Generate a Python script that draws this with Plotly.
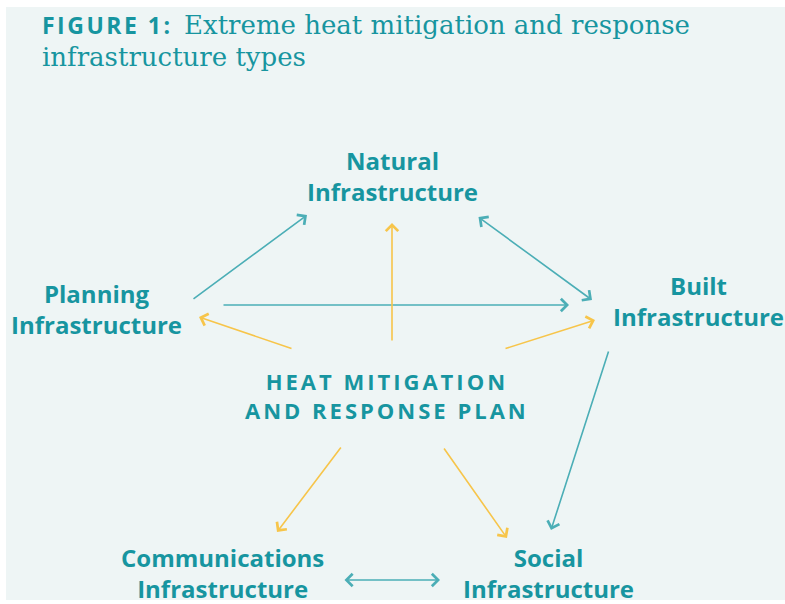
import plotly.graph_objects as go

# ---- data ----
nodes = ["Natural<br>Infrastructure", "Planning<br>Infrastructure", "Built<br>Infrastructure",
         "HEAT MITIGATION<br>AND RESPONSE PLAN", "Communications<br>Infrastructure", "Social<br>Infrastructure"]
# edges: source -> target; 'Plan' edges are yellow, others teal
edge_src = ["Planning", "Planning", "Natural", "Built", "Communications",
            "Plan", "Plan", "Plan", "Plan", "Plan"]
edge_dst = ["Natural", "Built", "Built", "Social", "Social",
            "Natural", "Planning", "Built", "Communications", "Social"]
edge_two_way = [False, False, True, False, True, False, False, False, False, False]
title_bold = "FIGURE 1:"
title_rest_1 = "Extreme heat mitigation and response"
title_rest_2 = "infrastructure types"

# ---- layout (positions in px of a 785x604 canvas) ----
node_pos = [(392, 176), (96, 309), (698, 301), (387, 395), (222, 573), (548, 573)]
edge_tail = [(192, 300), (222, 305), (477, 216), (609, 350), (343, 580),
             (392, 342), (293, 349), (504, 349), (342, 446), (443, 447)]
edge_head = [(307, 215), (569, 305), (592, 300), (551, 530), (440, 580),
             (392, 223), (199, 317), (595, 320), (277, 532), (507, 538)]

TEAL = "#1795A0"
LINE_TEAL = "#4BAEB6"
YELLOW = "#F7C54A"
BG = "#EEF5F5"

fig = go.Figure()
fig.add_trace(go.Scatter(x=[0, 785], y=[0, 604], mode="markers", marker=dict(opacity=0),
                         hoverinfo="skip", showlegend=False))

fig.add_shape(type="rect", x0=6, x1=785, y0=7, y1=600, fillcolor=BG, line_width=0, layer="below")

annotations = []
for i, (t, h) in enumerate(zip(edge_tail, edge_head)):
    col = YELLOW if edge_src[i] == "Plan" else LINE_TEAL
    a = dict(x=h[0], y=h[1], ax=t[0], ay=t[1], xref="x", yref="y", axref="x", ayref="y",
             text="", showarrow=True, arrowhead=4, arrowsize=1.5, arrowwidth=1.6, arrowcolor=col)
    if edge_two_way[i]:
        a.update(arrowside="end+start", startarrowhead=4, startarrowsize=1.5)
    annotations.append(a)

for i, (lab, p) in enumerate(zip(nodes, node_pos)):
    if i == 3:
        txt = "<span style='letter-spacing:3px'>" + lab.replace("<br>", "</span><br><span style='letter-spacing:3px'>") + "</span>"
        size = 22
    else:
        txt = lab
        size = 24
    annotations.append(dict(x=p[0], y=p[1], xref="x", yref="y", text=txt, showarrow=False,
                            align="center", xanchor="center", yanchor="middle",
                            font=dict(family="Open Sans", size=size, color=TEAL, weight="bold")))

annotations.append(dict(x=40, y=25, xref="x", yref="y", xanchor="left", yanchor="middle",
                        showarrow=False,
                        text="<span style='letter-spacing:2.5px'><b>" + title_bold + "</b></span>",
                        font=dict(family="Open Sans", size=23, color=TEAL)))
annotations.append(dict(x=182, y=25, xref="x", yref="y", xanchor="left", yanchor="middle",
                        showarrow=False, text=title_rest_1,
                        font=dict(family="DejaVu Serif", size=26, color=TEAL)))
annotations.append(dict(x=40, y=57, xref="x", yref="y", xanchor="left", yanchor="middle",
                        showarrow=False, text=title_rest_2,
                        font=dict(family="DejaVu Serif", size=26, color=TEAL)))

fig.update_layout(
    width=785, height=604, margin=dict(l=0, r=0, t=0, b=0),
    paper_bgcolor="white", plot_bgcolor="white",
    xaxis=dict(range=[0, 785], visible=False, fixedrange=True),
    yaxis=dict(range=[604, 0], visible=False, fixedrange=True),
    annotations=annotations, showlegend=False,
)
fig.write_html("out.html", config={"displayModeBar": False},
               post_script="document.body.style.margin='0';document.body.style.overflow='hidden';")
